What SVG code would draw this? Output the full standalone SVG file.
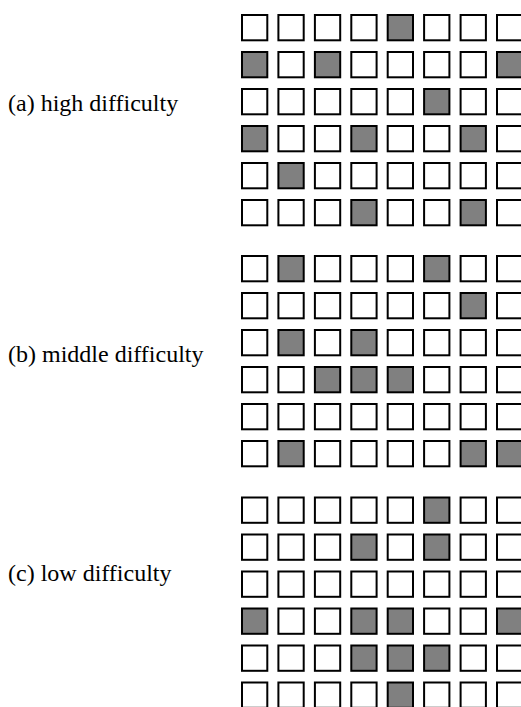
<svg xmlns="http://www.w3.org/2000/svg" width="521" height="707" viewBox="0 0 521 707">
<style>
.lbl{font-family:"Liberation Serif","Times New Roman",serif;font-size:24px;fill:#000}
rect{stroke:#000;stroke-width:2;width:25.3px;height:25.3px}
.e{fill:#fff}
.f{fill:#808080}
</style>
<rect x="0" y="0" width="521" height="707" style="fill:#fff;stroke:none;width:521px;height:707px"/>
<text class="lbl" x="8" y="111">(a) high difficulty</text>
<text class="lbl" x="8" y="362">(b) middle difficulty</text>
<text class="lbl" x="8" y="581">(c) low difficulty</text>
<g id="panel-a">
<g transform="translate(0,15)"><rect class="e" x="242"/><rect class="e" x="278.4"/><rect class="e" x="314.9"/><rect class="e" x="351.3"/><rect class="f" x="387.7"/><rect class="e" x="424.1"/><rect class="e" x="460.6"/><rect class="e" x="497"/></g>
<g transform="translate(0,52)"><rect class="f" x="242"/><rect class="e" x="278.4"/><rect class="f" x="314.9"/><rect class="e" x="351.3"/><rect class="e" x="387.7"/><rect class="e" x="424.1"/><rect class="e" x="460.6"/><rect class="f" x="497"/></g>
<g transform="translate(0,89)"><rect class="e" x="242"/><rect class="e" x="278.4"/><rect class="e" x="314.9"/><rect class="e" x="351.3"/><rect class="e" x="387.7"/><rect class="f" x="424.1"/><rect class="e" x="460.6"/><rect class="e" x="497"/></g>
<g transform="translate(0,126)"><rect class="f" x="242"/><rect class="e" x="278.4"/><rect class="e" x="314.9"/><rect class="f" x="351.3"/><rect class="e" x="387.7"/><rect class="e" x="424.1"/><rect class="f" x="460.6"/><rect class="e" x="497"/></g>
<g transform="translate(0,163)"><rect class="e" x="242"/><rect class="f" x="278.4"/><rect class="e" x="314.9"/><rect class="e" x="351.3"/><rect class="e" x="387.7"/><rect class="e" x="424.1"/><rect class="e" x="460.6"/><rect class="e" x="497"/></g>
<g transform="translate(0,200)"><rect class="e" x="242"/><rect class="e" x="278.4"/><rect class="e" x="314.9"/><rect class="f" x="351.3"/><rect class="e" x="387.7"/><rect class="e" x="424.1"/><rect class="f" x="460.6"/><rect class="e" x="497"/></g>
</g>
<g id="panel-b">
<g transform="translate(0,256)"><rect class="e" x="242"/><rect class="f" x="278.4"/><rect class="e" x="314.9"/><rect class="e" x="351.3"/><rect class="e" x="387.7"/><rect class="f" x="424.1"/><rect class="e" x="460.6"/><rect class="e" x="497"/></g>
<g transform="translate(0,293)"><rect class="e" x="242"/><rect class="e" x="278.4"/><rect class="e" x="314.9"/><rect class="e" x="351.3"/><rect class="e" x="387.7"/><rect class="e" x="424.1"/><rect class="f" x="460.6"/><rect class="e" x="497"/></g>
<g transform="translate(0,330)"><rect class="e" x="242"/><rect class="f" x="278.4"/><rect class="e" x="314.9"/><rect class="f" x="351.3"/><rect class="e" x="387.7"/><rect class="e" x="424.1"/><rect class="e" x="460.6"/><rect class="e" x="497"/></g>
<g transform="translate(0,367)"><rect class="e" x="242"/><rect class="e" x="278.4"/><rect class="f" x="314.9"/><rect class="f" x="351.3"/><rect class="f" x="387.7"/><rect class="e" x="424.1"/><rect class="e" x="460.6"/><rect class="e" x="497"/></g>
<g transform="translate(0,404)"><rect class="e" x="242"/><rect class="e" x="278.4"/><rect class="e" x="314.9"/><rect class="e" x="351.3"/><rect class="e" x="387.7"/><rect class="e" x="424.1"/><rect class="e" x="460.6"/><rect class="e" x="497"/></g>
<g transform="translate(0,441)"><rect class="e" x="242"/><rect class="f" x="278.4"/><rect class="e" x="314.9"/><rect class="e" x="351.3"/><rect class="e" x="387.7"/><rect class="e" x="424.1"/><rect class="f" x="460.6"/><rect class="f" x="497"/></g>
</g>
<g id="panel-c">
<g transform="translate(0,497.5)"><rect class="e" x="242"/><rect class="e" x="278.4"/><rect class="e" x="314.9"/><rect class="e" x="351.3"/><rect class="e" x="387.7"/><rect class="f" x="424.1"/><rect class="e" x="460.6"/><rect class="e" x="497"/></g>
<g transform="translate(0,534.5)"><rect class="e" x="242"/><rect class="e" x="278.4"/><rect class="e" x="314.9"/><rect class="f" x="351.3"/><rect class="e" x="387.7"/><rect class="f" x="424.1"/><rect class="e" x="460.6"/><rect class="e" x="497"/></g>
<g transform="translate(0,571.5)"><rect class="e" x="242"/><rect class="e" x="278.4"/><rect class="e" x="314.9"/><rect class="e" x="351.3"/><rect class="e" x="387.7"/><rect class="e" x="424.1"/><rect class="e" x="460.6"/><rect class="e" x="497"/></g>
<g transform="translate(0,608.5)"><rect class="f" x="242"/><rect class="e" x="278.4"/><rect class="e" x="314.9"/><rect class="f" x="351.3"/><rect class="f" x="387.7"/><rect class="e" x="424.1"/><rect class="e" x="460.6"/><rect class="f" x="497"/></g>
<g transform="translate(0,645.5)"><rect class="e" x="242"/><rect class="e" x="278.4"/><rect class="e" x="314.9"/><rect class="f" x="351.3"/><rect class="f" x="387.7"/><rect class="f" x="424.1"/><rect class="e" x="460.6"/><rect class="e" x="497"/></g>
<g transform="translate(0,682.5)"><rect class="e" x="242"/><rect class="e" x="278.4"/><rect class="e" x="314.9"/><rect class="e" x="351.3"/><rect class="f" x="387.7"/><rect class="e" x="424.1"/><rect class="e" x="460.6"/><rect class="e" x="497"/></g>
</g>
</svg>
